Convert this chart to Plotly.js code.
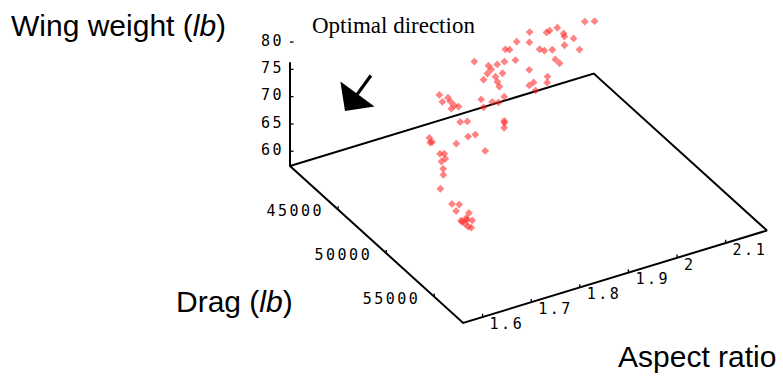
<!DOCTYPE html>
<html>
<head>
<meta charset="utf-8">
<script src="https://cdn.plot.ly/plotly-3.0.1.min.js"></script>
<style>
html,body{margin:0;padding:0;background:#fff;}
#chart{width:783px;height:379px;}
#chart g.textpoint text{letter-spacing:2.5px;}
</style>
</head>
<body>
<div id="chart"></div>
<script>
// Pareto points: drag (lb), aspect ratio, wing weight (lb)
const drag = [44070,44530,43180,42990,42970,42170,43840,44070,44620,42140,42810,44640,42130,42320,43720,44020,44330,45590,43280,45100,45540,41430,42340,42700,42840,42730,44510,42800,43500,43370,42990,43770,44180,45800,46170,45520,45520,46120,45040,44160,44800,45150,44760,41880,42480,42460,42840,43270,43520,43330,44560,44890,46560,46680,47000,46080,45880,44130,44480,44510,45760,47560,45640,45830,46200,46200,46730,47110,47850,49360,49750,49990,50720,50900,51070,50850,51360,51240,51560,51760,50970];
const aspect = [2.086,2.097,2.047,2.035,2.029,2.010,2.047,2.044,2.052,1.984,1.997,2.033,1.961,1.966,2.000,2.004,2.014,2.045,1.959,2.005,2.005,1.911,1.922,1.933,1.945,1.920,1.963,1.911,1.928,1.916,1.899,1.912,1.908,1.975,1.967,1.952,1.943,1.944,1.901,1.871,1.881,1.887,1.864,1.830,1.836,1.825,1.834,1.833,1.837,1.826,1.820,1.828,1.871,1.869,1.862,1.821,1.810,1.765,1.760,1.763,1.788,1.812,1.757,1.762,1.757,1.749,1.742,1.735,1.714,1.708,1.715,1.704,1.716,1.707,1.705,1.697,1.710,1.698,1.698,1.700,1.697];
const weight = [76.0,76.5,74.5,74.0,73.8,73.1,74.5,74.4,74.7,72.0,72.6,74.0,71.2,71.3,72.7,72.8,73.2,74.4,71.1,72.9,72.9,69.2,69.6,70.1,70.5,69.6,71.2,69.2,69.9,69.4,68.7,69.2,69.1,71.7,71.4,70.8,70.5,70.5,68.8,67.7,68.0,68.3,67.4,66.0,66.3,65.8,66.2,66.2,66.3,65.9,65.6,66.0,67.6,67.5,67.3,65.7,65.3,63.5,63.3,63.4,64.4,65.3,63.2,63.4,63.2,62.9,62.6,62.3,61.5,61.3,61.6,61.1,61.6,61.2,61.2,60.9,61.4,60.9,60.9,61.0,60.9];

// axis ranges and ticks
const dragRange = [40000, 58000];
const aspectRange = [1.56, 2.185];
const weightRange = [57.3, 76.3];

const dragTicks = [45000, 50000, 55000];
const dragTickText = ['45000', '50000', '55000'];
const aspectTicks = [1.6, 1.7, 1.8, 1.9, 2.0, 2.1];
const aspectTickText = ['1.6', '1.7', '1.8', '1.9', '2', '2.1'];
const weightTicks = [60, 65, 70, 75, 80];
const weightTickText = ['60', '65', '70', '75', '80'];

// oblique view of the 3-D box (no WebGL available): pixel vectors per data unit
const view = {
  origin: [290, 166],
  perAspect: [486, -148],
  perDrag: [0.00962, 0.00872],
  perWeight: [0, -5.46]
};
function proj(d, a, w) {
  const da = a - aspectRange[0], dd = d - dragRange[0], dw = w - weightRange[0];
  return [
    view.origin[0] + da * view.perAspect[0] + dd * view.perDrag[0] + dw * view.perWeight[0],
    view.origin[1] + da * view.perAspect[1] + dd * view.perDrag[1] + dw * view.perWeight[1]
  ];
}
function lineTrace(pts, width) {
  const x = [], y = [];
  pts.forEach(p => { if (p === null) { x.push(null); y.push(null); } else { x.push(p[0]); y.push(p[1]); } });
  return {type: 'scatter', mode: 'lines', x: x, y: y, hoverinfo: 'skip', showlegend: false,
          line: {color: '#000', width: width}};
}

const d0 = dragRange[0], d1 = dragRange[1], a0 = aspectRange[0], a1 = aspectRange[1], w0 = weightRange[0], w1 = weightRange[1];

// box: floor outline + vertical weight axis
const frame = lineTrace([
  proj(d0, a0, w0), proj(d0, a1, w0), proj(d1, a1, w0), proj(d1, a0, w0), proj(d0, a0, w0), proj(d0, a0, w1)
], 2);

// tick marks
const tickPts = [];
dragTicks.forEach(v => { tickPts.push(proj(v, a0, w0), proj(v, a0, w0 + 0.6), null); });
aspectTicks.forEach(v => { tickPts.push(proj(d1, v, w0), proj(d1, v, w0 + 0.6), null); });
weightTicks.forEach(v => { const p = proj(d0, a0, v); tickPts.push(p, [p[0] + 3.5, p[1]], null); });
const ticks = lineTrace(tickPts, 1.3);

const tickFont = {family: 'DejaVu Sans Mono', size: 15, color: '#000'};
function labelTrace(vals, texts, fn, pos) {
  const x = [], y = [];
  vals.forEach(v => { const p = fn(v); x.push(p[0]); y.push(p[1]); });
  return {type: 'scatter', mode: 'text', x: x, y: y, text: texts, textposition: pos,
          textfont: tickFont, hoverinfo: 'skip', showlegend: false};
}
const dragLabels = labelTrace(dragTicks, dragTickText, v => { const p = proj(v, a0, w0); return [p[0] - 14, p[1] + 3]; }, 'middle left');
const aspectLabels = labelTrace(aspectTicks, aspectTickText, v => { const p = proj(d1, v, w0); return [p[0] + 7, p[1] + 8]; }, 'middle right');
const weightLabels = labelTrace(weightTicks, weightTickText, v => { const p = proj(d0, a0, v); return [p[0] - 6, p[1]]; }, 'middle left');

// Pareto points
const px = [], py = [];
for (let i = 0; i < drag.length; i++) { const p = proj(drag[i], aspect[i], weight[i]); px.push(p[0]); py.push(p[1]); }
const points = {type: 'scatter', mode: 'markers', x: px, y: py, hoverinfo: 'skip', showlegend: false,
  marker: {symbol: 'diamond', size: 6, color: 'rgba(255,30,30,0.55)', line: {width: 0}}};

const titleFont = {family: 'Liberation Sans, Arial', size: 30, color: '#000'};
const layout = {
  width: 783, height: 379,
  margin: {l: 0, r: 0, t: 0, b: 0},
  paper_bgcolor: '#fff', plot_bgcolor: '#fff',
  showlegend: false, hovermode: false,
  xaxis: {range: [0, 783], visible: false, fixedrange: true},
  yaxis: {range: [379, 0], visible: false, fixedrange: true},
  annotations: [
    {xref: 'paper', yref: 'paper', x: 9/783, y: 1 - 25/379, xanchor: 'left', yanchor: 'middle', showarrow: false,
     text: 'Wing weight (<i>lb</i>)', font: titleFont},
    {xref: 'paper', yref: 'paper', x: 174/783, y: 1 - 301/379, xanchor: 'left', yanchor: 'middle', showarrow: false,
     text: 'Drag (<i>lb</i>)', font: titleFont},
    {xref: 'paper', yref: 'paper', x: 778/783, y: 1 - 356/379, xanchor: 'right', yanchor: 'middle', showarrow: false,
     text: 'Aspect ratio', font: titleFont},
    {xref: 'paper', yref: 'paper', x: 394/783, y: 1 - 26/379, xanchor: 'center', yanchor: 'middle', showarrow: false,
     text: 'Optimal direction', font: {family: 'Liberation Serif, Times New Roman', size: 23, color: '#000'}},
    {xref: 'paper', yref: 'paper', x: 345/783, y: 1 - 111/379, showarrow: true, text: '',
     ax: 27, ay: -37, arrowhead: 1, arrowsize: 2.2, arrowwidth: 3.2, arrowcolor: '#000', standoff: 0}
  ]
};

Plotly.newPlot('chart', [frame, ticks, points, dragLabels, aspectLabels, weightLabels], layout,
  {staticPlot: true, displayModeBar: false});
</script>
</body>
</html>
